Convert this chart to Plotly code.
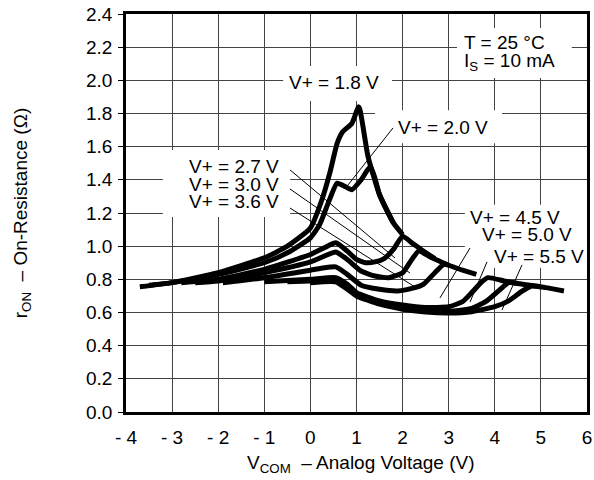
import plotly.graph_objects as go

# V+ = 1.8 V ... 5.5 V : r_ON (ohm) vs V_COM (V)
v18_x = [-3.7, -3.0, -2.0, -1.0, -0.5, 0.0, 0.25, 0.42, 0.58, 0.7, 0.9, 1.05, 1.25, 1.5, 1.8]
v18_y = [0.755, 0.78, 0.84, 0.93, 1.0, 1.11, 1.28, 1.44, 1.62, 1.69, 1.74, 1.84, 1.54, 1.31, 1.14]

v20_x = [-3.5, -3.0, -2.0, -1.0, -0.5, 0.0, 0.2, 0.4, 0.58, 0.75, 0.9, 1.1, 1.3, 1.4, 1.5, 1.8, 2.0]
v20_y = [0.765, 0.78, 0.83, 0.9, 0.96, 1.05, 1.13, 1.27, 1.38, 1.36, 1.34, 1.4, 1.48, 1.41, 1.31, 1.14, 1.07]

v27_x = [-2.8, -2.0, -1.0, 0.0, 0.3, 0.55, 0.8, 1.0, 1.2, 1.4, 1.6, 1.8, 2.0, 2.2, 2.4, 2.7]
v27_y = [0.78, 0.8, 0.86, 0.95, 0.99, 1.02, 0.97, 0.92, 0.9, 0.905, 0.925, 0.98, 1.06, 1.02, 0.98, 0.925]

v30_x = [-2.5, -2.0, -1.0, 0.0, 0.3, 0.55, 0.8, 1.1, 1.4, 1.7, 2.0, 2.2, 2.35, 2.6, 3.0]
v30_y = [0.78, 0.79, 0.84, 0.905, 0.94, 0.965, 0.92, 0.85, 0.82, 0.81, 0.84, 0.92, 0.97, 0.935, 0.885]

v36_x = [-1.9, -1.0, 0.0, 0.3, 0.55, 0.8, 1.1, 1.5, 1.9, 2.2, 2.45, 2.7, 2.9, 3.3, 3.6]
v36_y = [0.78, 0.81, 0.855, 0.87, 0.875, 0.83, 0.765, 0.74, 0.73, 0.745, 0.77, 0.84, 0.89, 0.855, 0.83]

v45_x = [-1.0, 0.0, 0.55, 0.8, 1.0, 1.5, 2.0, 2.5, 3.0, 3.3, 3.5, 3.7, 3.85, 4.2, 4.5]
v45_y = [0.785, 0.8, 0.81, 0.77, 0.72, 0.67, 0.645, 0.63, 0.635, 0.665, 0.72, 0.78, 0.81, 0.79, 0.775]

v50_x = [-0.5, 0.0, 0.55, 0.8, 1.0, 1.5, 2.0, 2.5, 3.0, 3.5, 3.8, 4.1, 4.3, 4.6, 5.0]
v50_y = [0.785, 0.79, 0.795, 0.75, 0.71, 0.66, 0.63, 0.612, 0.607, 0.625, 0.665, 0.735, 0.78, 0.77, 0.755]

v55_x = [0.0, 0.55, 0.8, 1.0, 1.5, 2.0, 2.5, 3.0, 3.5, 4.0, 4.3, 4.6, 4.8, 5.1, 5.5]
v55_y = [0.78, 0.785, 0.74, 0.7, 0.65, 0.62, 0.603, 0.597, 0.605, 0.635, 0.67, 0.73, 0.76, 0.75, 0.73]

x_ticks = [-4, -3, -2, -1, 0, 1, 2, 3, 4, 5, 6]
x_ticktext = ['- 4', '- 3', '- 2', '- 1', '0', '1', '2', '3', '4', '5', '6']

curves = [(v18_x, v18_y), (v20_x, v20_y), (v27_x, v27_y), (v30_x, v30_y),
          (v36_x, v36_y), (v45_x, v45_y), (v50_x, v50_y), (v55_x, v55_y)]

FONT = 'Liberation Sans, Arial, Helvetica, sans-serif'
FS = 19
fig = go.Figure()
for cx, cy in curves:
    fig.add_trace(go.Scatter(x=cx, y=cy, mode='lines',
                             line=dict(color='black', width=5, shape='spline', smoothing=0.5),
                             showlegend=False, hoverinfo='skip'))

# white boxes that break the grid behind the labels
boxes = [(-0.59, 1.77, 1.876, 2.087), (1.4, 4.16, 1.62, 1.82), (-3.2, -0.44, 1.176, 1.58),
         (3.35, 6.0, 0.87, 1.25), (3.18, 5.67, 2.014, 2.316)]
for x0, x1, y0, y1 in boxes:
    fig.add_shape(type='rect', x0=x0, x1=x1, y0=y0, y1=y1, layer='between',
                  fillcolor='white', line=dict(width=0))

# leader lines
leaders = [(1.792, 1.713, 0.816, 1.369), (-0.443, 1.46, 1.835, 0.929),
           (-0.443, 1.345, 2.161, 0.838), (-0.443, 1.23, 2.269, 0.754),
           (3.462, 0.989, 2.811, 0.688), (3.831, 0.905, 3.462, 0.663),
           (4.59, 0.887, 4.156, 0.615)]
for x0, y0, x1, y1 in leaders:
    fig.add_shape(type='line', x0=x0, y0=y0, x1=x1, y1=y1, layer='above',
                  line=dict(color='black', width=1))

labels = [('V+ = 1.8 V', 0.512, 1.984), ('V+ = 2.0 V', 2.887, 1.713),
          ('V+ = 2.7 V', -1.668, 1.478), ('V+ = 3.0 V', -1.668, 1.369),
          ('V+ = 3.6 V', -1.668, 1.267), ('V+ = 4.5 V', 4.438, 1.17),
          ('V+ = 5.0 V', 4.709, 1.068), ('V+ = 5.5 V', 4.959, 0.935)]
for txt, lx, ly in labels:
    fig.add_annotation(x=lx, y=ly, text=txt, showarrow=False,
                       font=dict(family=FONT, size=FS, color='black'))

fig.add_annotation(x=3.289, y=2.226, text='T = 25 °C', showarrow=False, xanchor='left',
                   font=dict(family=FONT, size=FS, color='black'))
fig.add_annotation(x=3.289, y=2.111, text='I<sub>S</sub> = 10 mA', showarrow=False, xanchor='left',
                   font=dict(family=FONT, size=FS, color='black'))

# axis titles
fig.add_annotation(xref='paper', yref='paper', x=-0.225, y=0.5, textangle=-90,
                   xanchor='center', yanchor='middle',
                   text='r<sub>ON</sub>  – On-Resistance (Ω)', showarrow=False,
                   font=dict(family=FONT, size=FS, color='black'))
fig.add_annotation(xref='paper', yref='paper', x=0.51, y=-0.13, yanchor='middle',
                   text='V<sub>COM</sub>  – Analog Voltage (V)', showarrow=False,
                   font=dict(family=FONT, size=FS, color='black'))

fig.update_layout(
    width=594, height=480,
    margin=dict(l=126, r=7, t=14, b=68),
    plot_bgcolor='white', paper_bgcolor='white',
    font=dict(family=FONT, size=FS, color='black'),
    xaxis=dict(range=[-4, 6], tickvals=x_ticks, ticktext=x_ticktext, automargin=False,
               showgrid=True, gridcolor='#444444', gridwidth=1, zeroline=False,
               showline=True, mirror=True, linecolor='black', linewidth=2.5,
               ticks='', ticklabelstandoff=6),
    yaxis=dict(range=[0, 2.4], dtick=0.2, tickformat='.1f', automargin=False,
               showgrid=True, gridcolor='#444444', gridwidth=1, zeroline=False,
               showline=True, mirror=True, linecolor='black', linewidth=2.5,
               ticks='outside', ticklen=5, tickcolor='black', ticklabelstandoff=2),
)

# drop the default 8 px body margin so the figure sits at the window's corner
fig.write_html('out.html', config={'displayModeBar': False},
               post_script="document.body.style.margin='0';")
